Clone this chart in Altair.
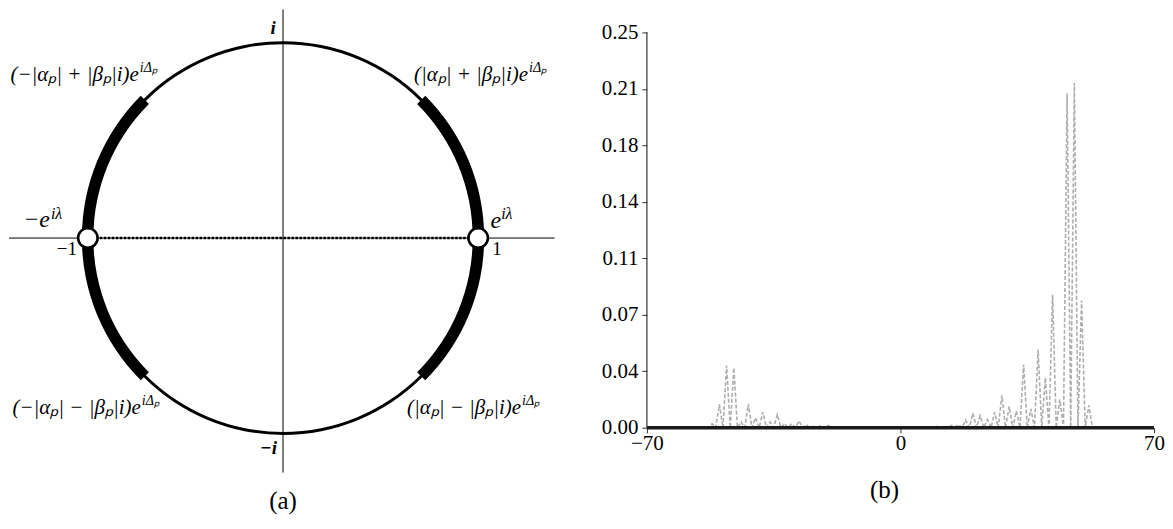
import math
import altair as alt
import pandas as pd

# ---------------- panel (b): distribution data ----------------
positions = list(range(-70, 71))
probabilities = [
    0, 0, 0, 0, 0, 0, 0, 0, 0, 0,                                   # -70 .. -61
    0, 0, 0, 0, 0, 0, 0.0008, 0, 0.0025, 0,                         # -60 .. -51
    0.0148, 0, 0.0393, 0, 0.0379, 0, 0.0036, 0, 0.0151, 0,          # -50 .. -41
    0.0063, 0, 0.0099, 0, 0.0036, 0, 0.0084, 0, 0.0026, 0,          # -40 .. -31
    0.0026, 0, 0.0042, 0, 0.0019, 0, 0.0008, 0, 0.0015, 0,          # -30 .. -21
    0.0015, 0, 0.0006, 0, 0.0004, 0, 0.0003, 0, 0.0002, 0,          # -20 .. -11
    0.0002, 0, 0.0001, 0, 0.0001, 0, 0.0001, 0, 0.0001, 0,          # -10 .. -1
    0.0001, 0, 0.0001, 0, 0.0002, 0, 0.0003, 0, 0.0005, 0,          #   0 .. 9
    0.0008, 0, 0.0010, 0, 0.0015, 0, 0.0020, 0, 0.0050, 0,          #  10 .. 19
    0.0092, 0, 0.0077, 0, 0.0052, 0, 0.0099, 0, 0.0204, 0,          #  20 .. 29
    0.0135, 0, 0.0105, 0, 0.0400, 0, 0.0119, 0, 0.0495, 0,          #  30 .. 39
    0.0316, 0, 0.0843, 0, 0.0178, 0, 0.2113, 0, 0.2180, 0,          #  40 .. 49
    0.0805, 0, 0.0142, 0, 0.0010, 0, 0, 0, 0, 0,                    #  50 .. 59
    0, 0, 0, 0, 0, 0, 0, 0, 0, 0,                                   #  60 .. 69
    0,                                                              #  70
]
y_ticks = [0.0, 0.0357, 0.0714, 0.1071, 0.1429, 0.1786, 0.2143, 0.25]
x_ticks = [-70, 0, 70]
x_range = [-70, 70]
y_axis_top = 0.25

# ---------------- panel (a): unit circle diagram ----------------
thick_arc_from_deg = [-45, 135]
thick_arc_to_deg = [45, 225]
marked_x = [-1, 1]
marked_y = [0, 0]
corner_main = ["(−|αₚ| + |βₚ|i)e", "(|αₚ| + |βₚ|i)e",
               "(−|αₚ| − |βₚ|i)e", "(|αₚ| − |βₚ|i)e"]
corner_sup = ["iΔₚ", "iΔₚ", "iΔₚ", "iΔₚ"]
axis_labels = ["i", "−i"]
point_main = ["−e", "e"]
point_sup = ["iλ", "iλ"]
left_num = ["−1"]
right_num = ["1"]

FONT = "'Liberation Serif', 'Times New Roman', Times, serif"

# ---------------- layout: positions in unit-circle coordinates ----------------
XS = alt.Scale(domain=[-1.4041, 1.4604], nice=False, zero=False)
YS = alt.Scale(domain=[-1.4629, 1.1714], nice=False, zero=False)


def X(f):
    return alt.X(f, type="quantitative", scale=XS, axis=None)


def Y(f):
    return alt.Y(f, type="quantitative", scale=YS, axis=None)


def text_layer(labels, ux, uy, align, size, italic=True, bold=False):
    df = pd.DataFrame({"label": labels, "ux": ux, "uy": uy})
    return alt.Chart(df).mark_text(
        align=align, baseline="alphabetic", font=FONT, fontSize=size,
        fontStyle="italic" if italic else "normal",
        fontWeight="bold" if bold else "normal", color="black",
    ).encode(x=X("ux"), y=Y("uy"), text="label:N")


ring_df = pd.DataFrame({"cx": [0.0], "cy": [0.0], "t0": [0.0], "t1": [2 * math.pi]})
ring = alt.Chart(ring_df).mark_arc(radius=197.2, radius2=194.2, color="black").encode(
    x=X("cx"), y=Y("cy"),
    theta=alt.Theta("t0:Q", scale=None), theta2=alt.Theta2("t1"),
)

arc_start = [math.radians((90 - t) % 360) for t in thick_arc_to_deg]
arc_end = [s + math.radians(t - f) for s, f, t in zip(arc_start, thick_arc_from_deg, thick_arc_to_deg)]
arcs_df = pd.DataFrame({"cx": [0.0, 0.0], "cy": [0.0, 0.0], "t0": arc_start, "t1": arc_end})
thick = alt.Chart(arcs_df).mark_arc(radius=201.5, radius2=190.0, color="black").encode(
    x=X("cx"), y=Y("cy"),
    theta=alt.Theta("t0:Q", scale=None), theta2=alt.Theta2("t1"),
)

hline = alt.Chart(pd.DataFrame({"a": [-1.4041], "b": [1.3913], "c": [0.0]})).mark_rule(
    color="black", strokeWidth=1).encode(x=X("a"), x2="b", y=Y("c"))
vline = alt.Chart(pd.DataFrame({"a": [0.0], "b": [1.1714], "c": [-1.2020]})).mark_rule(
    color="black", strokeWidth=1).encode(x=X("a"), y=Y("b"), y2="c")
chord = alt.Chart(pd.DataFrame({"a": [marked_x[0]], "b": [marked_x[1]], "c": [0.0]})).mark_rule(
    color="black", strokeWidth=2.6, strokeDash=[2.4, 1.6]).encode(x=X("a"), x2="b", y=Y("c"))
pts = alt.Chart(pd.DataFrame({"px": marked_x, "py": marked_y})).mark_point(
    shape="circle", filled=True, fill="white", stroke="black", strokeWidth=2.6,
    size=380, opacity=1).encode(x=X("px"), y=Y("py"))

labels_a = [
    text_layer(corner_main, [-0.7391, 1.2558, -0.7289, 1.2199],
               [0.8031, 0.8031, -0.9003, -0.9003], "right", 21),
    text_layer(corner_sup, [-0.7340, 1.2609, -0.7238, 1.2251],
               [0.8491, 0.8491, -0.8542, -0.8542], "left", 14),
    text_layer(axis_labels, [-0.050, -0.074], [1.0432, -1.1049], "center", 19, bold=True),
    text_layer(point_main, [-1.1944, 1.1176], [0.0563, 0.0512], "right", 24),
    text_layer(point_sup, [-1.1893, 1.1176], [0.0972, 0.0972], "left", 16),
    text_layer(left_num, [-1.0563], [-0.0870], "right", 19, italic=False),
    text_layer(right_num, [1.0716], [-0.0870], "left", 19, italic=False),
    text_layer(["(a)"], [0.0], [-1.3869], "center", 25, italic=False),
]

left = alt.layer(ring, thick, hline, vline, chord, pts, *labels_a).properties(width=560, height=515)

# ---------------- panel (b) chart ----------------
XR = alt.Scale(domain=x_range, nice=False, zero=False)
YR = alt.Scale(domain=[0, 0.2645], nice=False, zero=False)
common = dict(labelFont=FONT, labelFontSize=21, labelColor="black", tickColor="#333333",
              tickSize=5, domain=False, grid=False, title=None, labelFlush=False,
              labelOverlap=False)
x_axis = alt.Axis(values=x_ticks, labelPadding=0, **common)
y_axis = alt.Axis(values=y_ticks, format=".2f", labelPadding=4, **common)

dist = pd.DataFrame({"position": positions, "probability": probabilities})
line = alt.Chart(dist).mark_line(color="#adadad", strokeDash=[4, 2], strokeWidth=1.6).encode(
    x=alt.X("position:Q", scale=XR, axis=x_axis),
    y=alt.Y("probability:Q", scale=YR, axis=y_axis),
)
base_df = pd.DataFrame({"x0": [x_range[0]], "x1": [x_range[1]], "y0": [0.0], "y1": [y_axis_top]})
baseline = alt.Chart(base_df).mark_rule(color="#1a1a1a", strokeWidth=3.5).encode(
    x=alt.X("x0:Q", scale=XR, axis=x_axis), x2="x1",
    y=alt.Y("y0:Q", scale=YR, axis=y_axis),
)
yline = alt.Chart(base_df).mark_rule(color="#333333", strokeWidth=1.2).encode(
    x=alt.X("x0:Q", scale=XR, axis=x_axis),
    y=alt.Y("y0:Q", scale=YR, axis=y_axis), y2="y1",
)
cap_b = alt.Chart(pd.DataFrame({"caption": ["(b)"]})).mark_text(
    align="center", baseline="alphabetic", font=FONT, fontSize=25, color="black").encode(
    x=alt.value(238), y=alt.value(489), text="caption:N")

right = alt.layer(line, baseline, yline, cap_b).properties(width=508, height=419)

chart = alt.hconcat(left, right, spacing=79, bounds="flush").properties(
    padding=0, background="white").configure_view(stroke=None)

chart.save("out.html", embed_options={"renderer": "svg", "actions": False})
